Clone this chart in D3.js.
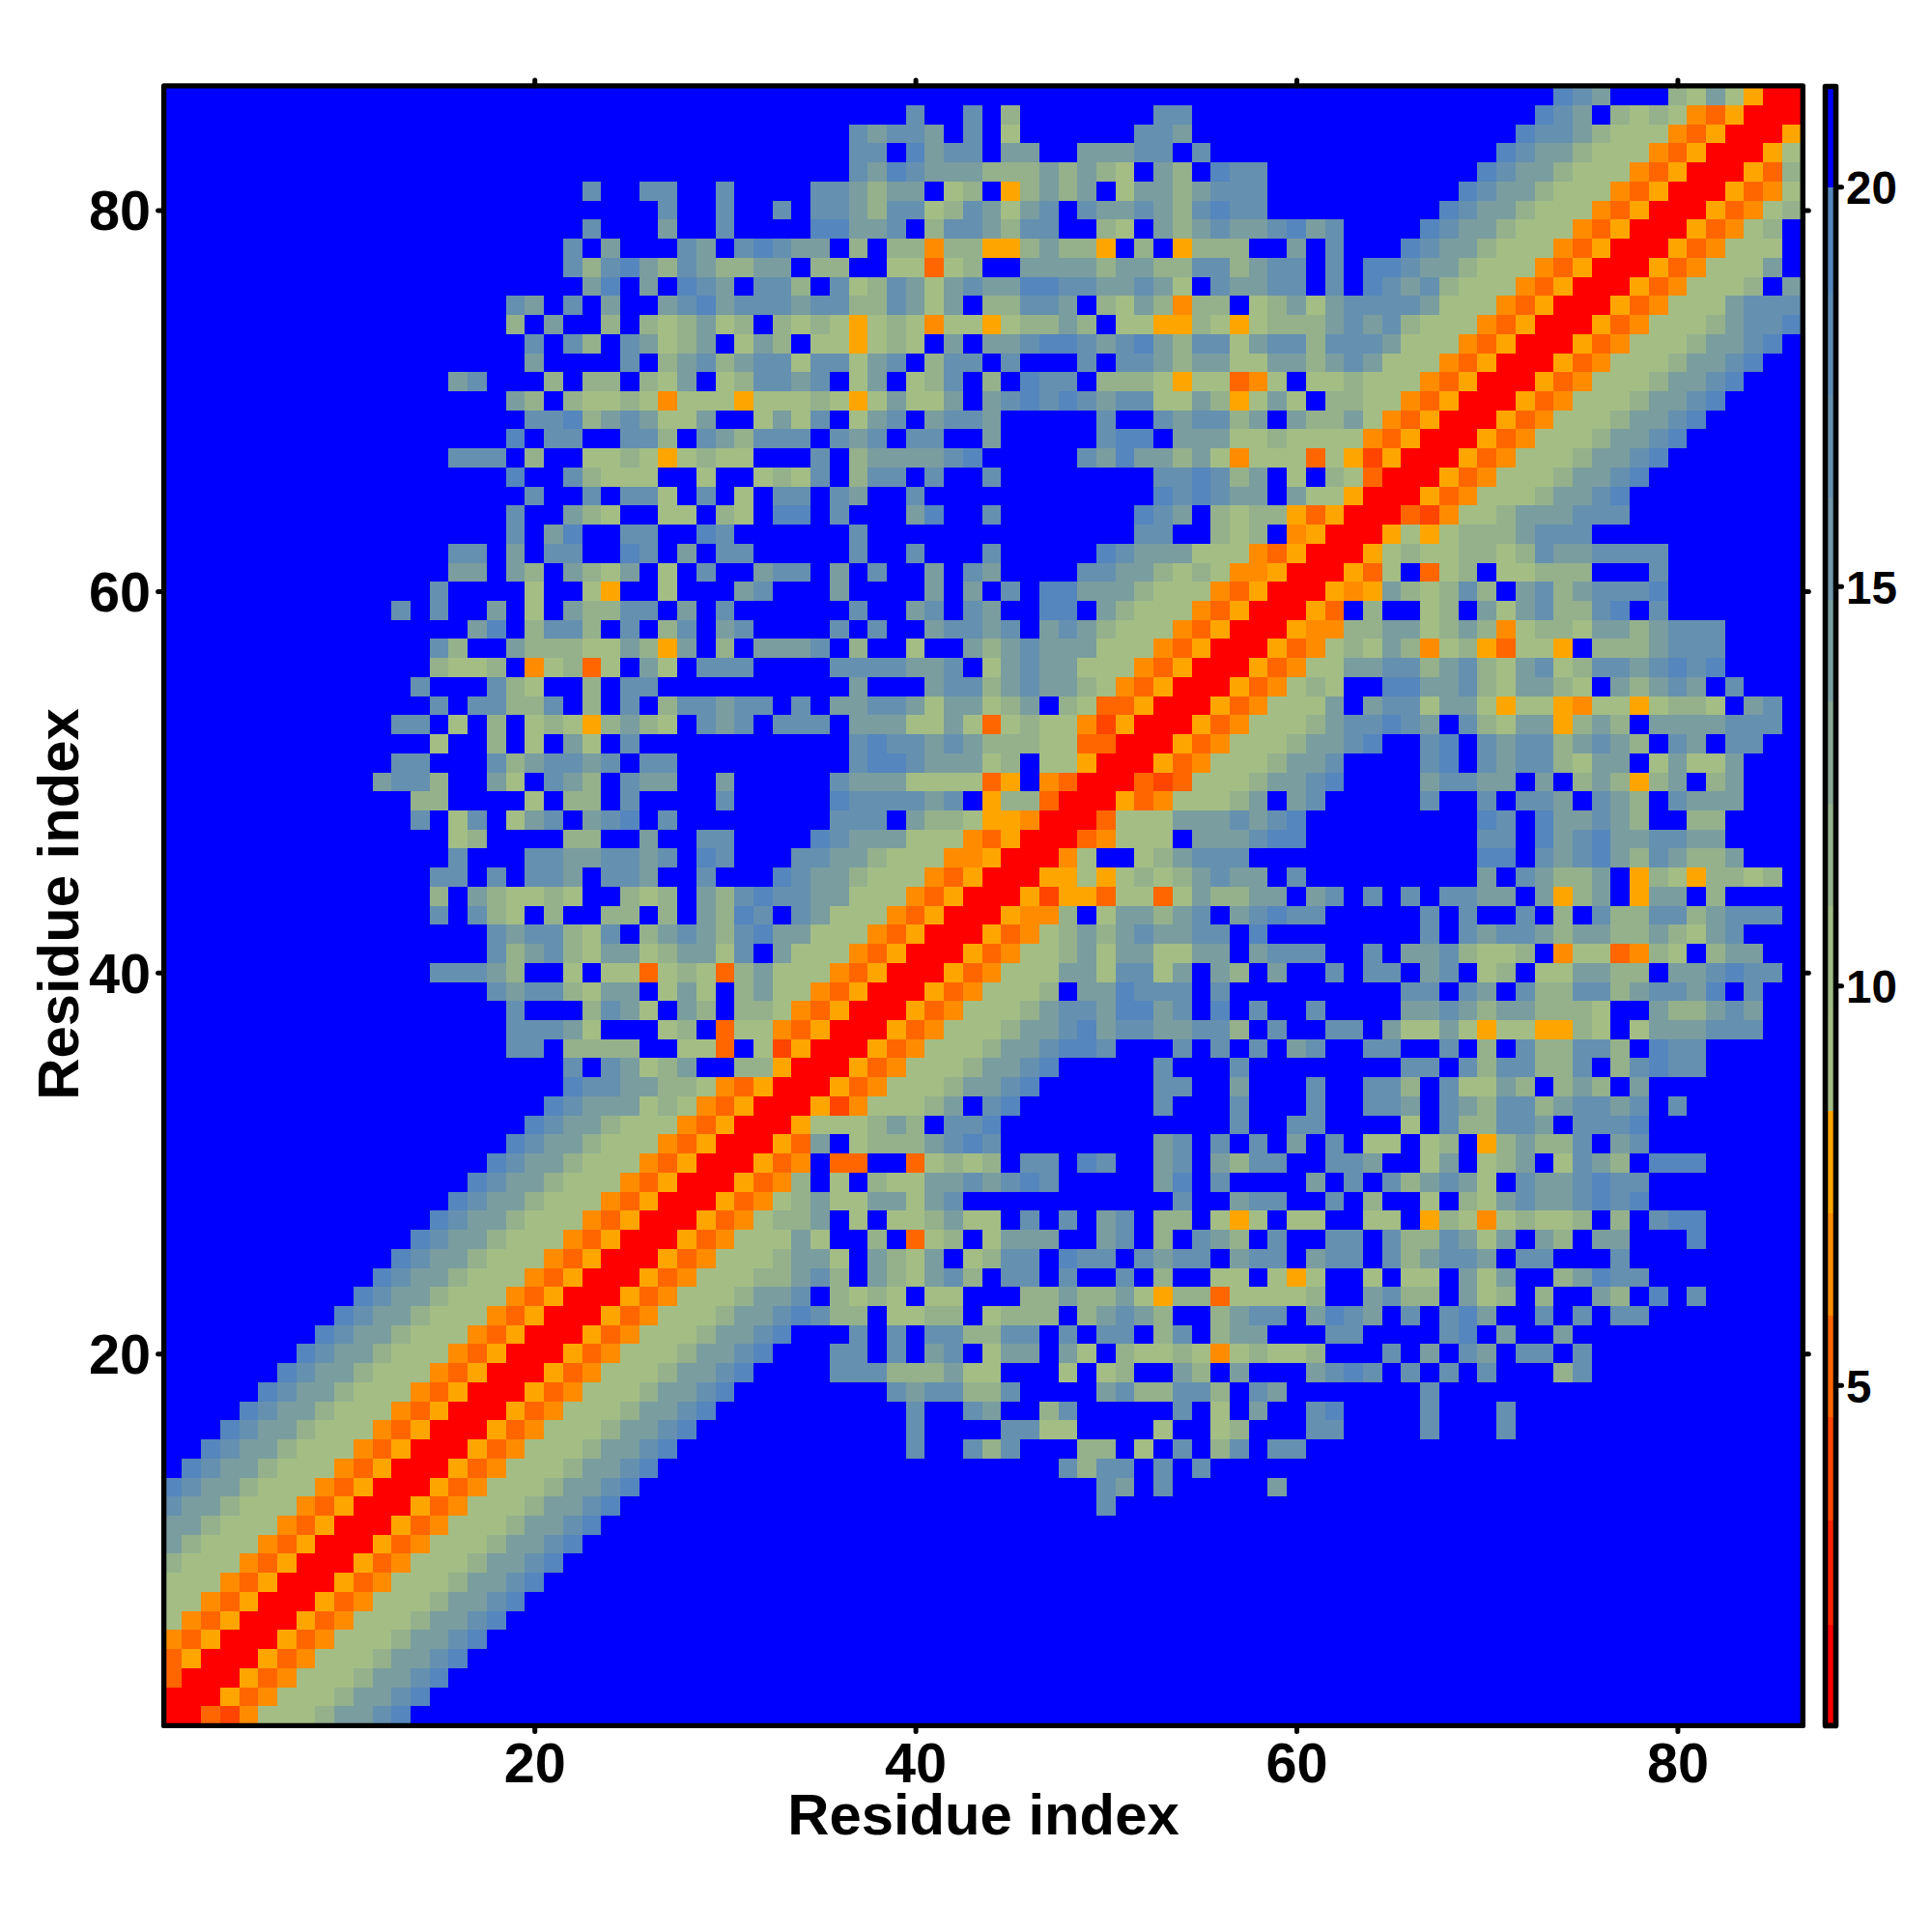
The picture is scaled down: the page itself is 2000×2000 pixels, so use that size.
<!DOCTYPE html>
<html><head><meta charset="utf-8">
<script src="https://cdn.jsdelivr.net/npm/d3@7"></script>
<style>html,body{margin:0;padding:0;background:#fff}svg{display:block}text{font-family:"Liberation Sans",Arial,sans-serif;font-weight:700;fill:#000}</style>
</head><body><svg id="c" width="2000" height="2000"></svg>
<script>
const residueCount = 86;
const axisTicks = [20, 40, 60, 80];
const colorbarTicks = [5, 10, 15, 20];
const axisLabel = "Residue index";
// distance code for each letter
const codeValues = {r:1.4, t:4.0, o:5.2, n:6.5, y:7.8, a:9.1, b:11.6, c:14.2, d:16.8, e:19.3};
const noContactValue = 21;
const colorBreaks = [2.0, 3.31, 4.6, 5.87, 7.15, 8.44, 9.72, 11.0, 12.28, 13.56, 14.84, 16.12, 17.4, 18.68, 20.0];
const colorLevels = ["#ff0000","#ff2200","#ff4500","#ff6600","#ff8c00","#ffa500","#a3bd85","#a0bb87","#94b18c","#88a794","#7a9d9f","#7096a8","#6590b0","#5c8bb7","#5586bd","#0000ff"];
// rows from residue 86 (top) to residue 1 (bottom); "col:codes" runs, everything else is no contact
const rowRuns = [
"74:edc 80:bacayrr",
"40:d 43:d 45:b 53:dd 73:edc 77:babanoyrrr",
"37:dcddc 43:d 45:a 52:ddc 72:eddcbaaanoyrrry",
"37:dd 40:ecdd 45:cc 49:cccdd 55:d 71:edccbaaanoyrrrya",
"37:dcedcccbbbcbcba 53:cb 56:edd 70:edccbaaanoyrrryob",
"23:d 26:dd 30:d 35:ddcbcc 42:ab 45:ybcbc 51:accbcddd 69:edccbaaanoyrrryona",
"27:d 30:d 33:d 35:ddcbddabdcacd 49:dccdcbdedd 68:edccbaaanoyrrryonab",
"23:d 27:c 30:d 35:eeccd 41:bddcbdd 50:ba 53:cbcdccdecd 67:edccbaaanoyrrryonab",
"22:d 24:c 28:dc 31:dedcc 37:b 39:bbnbbyybcbby 52:b 54:ybbb 60:c 62:d 66:edccbaaanoyrrryonaaa",
"22:dbdecbdcbbcc 35:bb 39:aaoab 46:ccccbccbbddbcdd 62:d 64:eedccbaaanoyrrryonaaac",
"23:ce 26:c 28:edc 32:ddb 36:dabdcacdcceeddccdca 56:dccdd 62:d 64:edcdbaaanoyrrryonaaab 86:c",
"19:dc 22:d 24:c 27:cdecdddcddbbdcac 44:bbddc 50:bacbnbb 58:abcacddddcaaanoyrrryonaaacddd",
"19:b 21:c 24:b 26:babcab 33:babayabanaayabbcb 51:aayybayabbbcdcdbaaanoyrrryonaaabcdde",
"20:d 22:db 25:dcabc 31:acb 35:aayaba 42:c 44:ccdeedcdecbddacddbdddcaaanoyrrryonaaabccde",
"20:c 25:d 27:bcdbcddaddacd 41:bdd 45:d 49:d 51:ddcbccaaccbcdcaaanoyrrryonaaabccde",
"16:cd 21:b 23:bb 26:bac 30:abddcd 37:ac 40:abd 44:b 46:edd 50:bbbayaaona 61:aabaaanoyrrryonaaabccde",
"19:cb 22:baabanaaayaaabayacaac 44:cdededcddaacbyaca 62:bbaanoyrrryonaaabccde",
"20:ddebcdcaac 32:acad 37:acd 41:cddc 50:d 53:dcddbc 60:cbbcanoyrrryonaaabccde",
"19:e 21:dd 25:ddb 29:dcbddd 36:dcd 40:dd 44:c 50:dee 54:cccaabaaaanoyrrryonaaabccde",
"16:ddd 20:b 23:aabayabaa 35:d 37:bccccde 49:dceccbcanaaaoaytyrrryonaaabccde",
"19:e 22:dbaaa 29:a 32:abad 37:bdd 41:d 44:d 53:ddedbc 60:a 62:baorrryonaaabccde",
"20:d 23:d 25:dda 29:d 31:a 33:dd 36:dc 40:d 53:ededcc 60:caayrrryonaaabccde",
"19:d 22:cba 27:aa 30:ba 33:ee 36:d 40:ce 44:d 52:edc 56:babbyoyrrrotnaabcccddd",
"19:d 21:ce 25:dd 29:ed 37:d 52:dd 56:bab 60:nyrrryayabbbcddd",
"16:dd 19:c 21:dd 25:ed 28:c 30:dd 37:d 40:d 44:d 50:edcccaaanoyrrryabaabbabdccdddd",
"16:cc 19:cb 22:cbac 27:a 29:d 32:cdd 36:c 38:d 41:c 43:dc 49:ddccbabannyrrryoa 67:oab 71:aabbb 79:d",
"15:d 20:a 23:ay 27:a 31:cd 36:c 41:c 43:c 45:d 47:eecccbaaanoyrrrynycbabdb 72:cdbcddde",
"13:d 15:d 18:c 20:a 22:cbbdd 28:c 30:d 37:d 40:cd 43:dc 47:ee 50:cbaaanoyrrryo 64:b 67:ab 70:cacdbbde 79:d",
"17:ce 20:bddb 25:d 27:bd 30:cd 36:d 38:d 41:cddcd 47:cdcbaaanoyrrrynnbbccabcbnabbaccbcddd",
"15:db 19:cbbbaacbyc 30:b 32:cccd 37:b 40:a 43:cbcdcccaaanoyrrryonabacbnabyoaay 76:bbbcddd",
"15:baab 20:naboa 26:ca 29:ddd 36:ddddccd 44:acdccaaanoyrrryonaaccddbcdbacdabddcdede",
"14:d 18:dba 23:b 25:dd 37:c 41:cddbcdccbanoyrrryonaba 65:eeccdbaccba 77:cbcdc 83:d",
"15:d 17:ddbbd 23:b 25:d 27:bddcdd 34:d 36:ccddcaccabc 48:baooyrrryonaaac 64:cddaccayaaynaayabba 84:cd",
"13:dd 16:a 18:b 20:abaybcba 29:dcd 33:ddd 37:cccaacaoabaantyrrryonaaabcddedc 69:dbaccybcb 79:ccccddd",
"15:a 18:b 20:a 22:ca 25:d 37:deddcdcbbbaaoorrryonaaabccde 67:de 70:dcddbcdcb 80:dc 83:dd",
"13:dd 18:dbcddcd 26:dd 37:deedcccab 47:aayrrryonaaabccd 67:de 70:dcddbacc 79:acaac",
"12:cddb 18:ca 21:dcb 25:dcc 30:c 36:dcccaaaaoy 47:norrrotoaaabccde 67:cddcc 73:c 75:bcbybc 82:bc",
"14:bb 20:a 22:bb 25:d 30:d 36:eddddcd 44:ybborrryonaaabc 60:cd 67:d 70:d 72:ddc 76:dcb 80:dccc",
"14:d 16:ad 19:acd 23:cde 27:d 36:ddd 40:cbbayynrrroaaacccdcde 70:ed 73:eccdcb 81:bb",
"16:ab 22:bb 26:c 29:dd 35:edcccaaanoyrrronaaa 55:cccdee 70:dd 73:ecdeccddcc",
"16:d 20:ddccddcd 29:ed 34:ddccbaaannyrrrna 52:abcddd 70:ee 73:dcdecbdcbbc",
"15:dd 18:d 20:ddc 24:ddc 29:d 33:edccbaaanoyrrryyayababcdcc 60:d 70:c 72:dcbbc 78:ybaybbab",
"15:b 17:cbaaba 25:bab 29:cbdeddccaaanoyrrrytyyoaaoacbbcc 61:cd 64:d 66:d 68:ddcc 73:cybc 78:ycc 82:b",
"15:d 17:dba 21:b 24:bb 27:b 29:cbed 34:dcaaanoyrrrynnb 50:accbcd 57:cdedd 67:d 69:d 72:d 74:b 76:dbbddbcddd",
"18:dcddbad 26:bcdcbdeccaaanoyrrryonabcbcdccdd 58:e 67:d 69:dcddcbccbbcbacd",
"18:dbcdbaccabccad 33:caaanoyrrryonaabcaccaacc 58:cddd 64:d 66:ccdbaab 74:naaonba 82:bcc",
"15:dddcb 22:a 24:aaoabaobcaaanoyrrryonaaaccaddac 56:cb 59:c 62:d 64:dd 67:cd 70:ab 73:aaccbb 80:ccdedd",
"18:dcddbacc 27:aca 31:bcaanoyrrryonaaab 49:cceddd 56:d 66:dd 69:dc 72:dbbddbcddce 84:d",
"19:d 23:bdca 28:cb 31:bbanoyrrryonaaabcddceecd 56:e 58:d 61:d 66:ccdcbccbbba 79:cbbcdc",
"19:dddca 27:ab 30:oaanoyrrryonaaabccdecddccddb 59:d 62:dd 65:caacayaayyba 78:acccddd",
"19:dd 22:bbbb 28:aao 32:atyrrryonaaabccdeed 54:d 56:d 58:d 60:cd 64:dd 68:d 70:b 72:dbbddb 79:edd",
"22:d 24:dcabc 31:bbyrrryonaaabccde 53:d 57:d 66:dd 69:dbddbbd 77:bdedd",
"22:eddccbbanoyrrryonaaabccde 53:dd 57:c 61:d 64:ddb 68:daacb 74:bcb 78:c",
"21:edcccabanoyrrrytnaaabc 44:de 53:d 57:d 61:d 64:ddc 68:dcbddbcddcd 80:d",
"20:edccbaaanoyrrryaaabcb 42:dde 57:d 60:dd 66:a 68:dbbddc 75:ddde",
"19:edccbaaanoyrrryoc 37:abbbcded 53:cd 56:d 58:d 60:c 62:d 64:aa 67:ab 70:ybcbbd 77:cd",
"18:edccbaaanoyrrryon 36:oo 40:oabab 46:dd 49:ed 53:cd 56:cbdd 62:ddc 67:ac 70:abc 74:adcb 79:eee",
"17:edccbaaanoyrrryonb 36:a 38:baaccdcded 53:ce 56:d 61:c 63:d 65:dbcdca 72:dccdedd",
"16:edccbaaanoyrrryonabcaaccacd 54:d 57:cdd 62:d 64:b 67:a 69:bacdccdede",
"15:edccbaaanoyrrryonabbc 37:a 39:aabcaa 46:d 48:d 50:cd 53:bb 56:aya 60:aa 64:aa 67:ybanabaab 77:b 79:dee",
"14:edccbaaanoyrrryonaaaca 38:b 40:oab 44:accc 50:cd 53:b 55:dcb 59:d 62:dd 65:dbbdcac 73:cb 76:cc 81:e",
"13:edccbaaanoyrrryonaaabcca 38:cbac 43:abdd 48:edd 52:dcdd 57:cdd 61:cdd 65:dbcddc 72:dd 77:d",
"12:edccbaaanoyrrryonaaabbcdb 38:cbacdb 45:dd 48:d 51:d 53:b 56:aa 59:aya 64:a 66:aa 69:cac 74:bcedd",
"11:edccbaaanoyrrryonaaabccd 36:baba 41:aa 46:bbcbbcaybboaaaab 64:cdbb 69:cab 73:b 76:cb 79:e 81:d",
"10:edccbaaanoyrrryonaaabccdedbb 39:aabb 44:abbb 49:bcdcb 56:bcdd 61:cedc 66:d 68:dec 73:d 75:d 77:dd",
"9:edccbaaanoyrrryonaaabccde 37:d 39:d 41:ddbbdd 48:d 50:dd 53:bd 56:bcc 62:dd 68:de 71:c 74:c",
"8:edccbaaanoyrrryonaaabccde 36:dd 39:d 41:cd 44:acc 48:ca 51:baabanabaab 65:d 67:c 69:dc 72:dd 75:d",
"7:edccbaaanoyrrryonaaabccde 36:dddbbbcaa 48:a 50:ab 54:cb 57:c 61:cded 66:d 68:d 70:d 74:bd",
"6:edccbaaanoyrrryonaaabccde 39:dcddbbd 50:cdbbddb 58:dc 67:d",
"5:edccbaaanoyrrryonaaabccde 40:d 43:dc 47:bd 54:d 56:a 58:c 61:de 67:d 71:d",
"4:edccbaaanoyrrryonaaabccde 40:d 45:ddaa 53:a 56:ab 61:dd 67:d 71:d",
"3:edccbaaanoyrrryonaaabccde 40:d 43:dbd 49:bb 52:a 54:d 56:bd 59:dd",
"2:edccbaaanoyrrryonaaabccde 48:dbdd 53:d 55:d",
"1:edccbaaanoyrrryonaaabccde 50:dc 53:d 59:c",
"1:dccbaaanoyrrryonaaabccde 50:d",
"1:ccbaaanoyrrryonaaabccde",
"1:cbaaanoyrrryonaaabccde",
"1:baaanoyrrryonaaabccde",
"1:aaanoyrrryonaaabccde",
"1:aanoyrrryonaaabccde",
"1:anoyrrryonaaabccde",
"1:noyrrryonaaabccde",
"1:oyrrryonaaabccde",
"1:orrryonaaabccde",
"1:rrryonaaabccde",
"1:rrotnaaabccde"
];

const svg = d3.select("#c");
const x = d3.scaleLinear().domain([0.5, residueCount + 0.5]).range([168.66, 1864.6]);
const y = d3.scaleLinear().domain([0.5, residueCount + 0.5]).range([1786, 89.3]);
const color = d3.scaleThreshold().domain(colorBreaks).range(colorLevels);
const frame = {l:169.6, r:1866.3, t:88.9, b:1786.4};

const cells = [];
rowRuns.forEach((runs, i) => {
  const row = residueCount - i;
  const rowValues = new Map();
  runs.split(" ").forEach(run => {
    const [start, codes] = run.split(":");
    [...codes].forEach((c, k) => rowValues.set(+start + k, codeValues[c]));
  });
  d3.range(1, residueCount + 1).forEach(col => {
    cells.push({row, col, value: rowValues.has(col) ? rowValues.get(col) : noContactValue});
  });
});

svg.append("clipPath").attr("id","plotClip").append("rect")
  .attr("x",frame.l).attr("y",frame.t).attr("width",frame.r-frame.l).attr("height",frame.b-frame.t);
svg.append("g").attr("clip-path","url(#plotClip)").attr("shape-rendering","crispEdges")
  .selectAll("rect").data(cells).join("rect")
  .attr("x", d => x(d.col - 0.5))
  .attr("y", d => y(d.row + 0.5))
  .attr("width", d => x(d.col + 0.5) - x(d.col - 0.5) + 0.5)
  .attr("height", d => y(d.row - 0.5) - y(d.row + 0.5) + 0.5)
  .attr("fill", d => color(d.value));

function styleAxis(g, fontSize) {
  g.select(".domain").remove();
  g.selectAll(".tick line").attr("stroke","#000").attr("stroke-width",5).attr("stroke-linecap","round");
  g.selectAll("text").attr("font-size",fontSize).attr("font-weight",700).attr("font-family",'"Liberation Sans",Arial,sans-serif').attr("fill","#000");
}
const tickLen = 6;
svg.append("g").attr("transform",`translate(0,${frame.b})`)
  .call(d3.axisBottom(x).tickValues(axisTicks).tickSize(tickLen).tickPadding(11.6)).call(styleAxis,57.6);
svg.append("g").attr("transform",`translate(0,${frame.t})`)
  .call(d3.axisTop(x).tickValues(axisTicks).tickSize(tickLen).tickFormat("")).call(styleAxis,57.6);
svg.append("g").attr("transform",`translate(${frame.l},0)`)
  .call(d3.axisLeft(y).tickValues(axisTicks).tickSize(tickLen).tickPadding(7.6)).call(styleAxis,57.6)
  .selectAll("text").attr("dy","0.355em");
svg.append("g").attr("transform",`translate(${frame.r},0)`)
  .call(d3.axisRight(y).tickValues(axisTicks).tickSize(tickLen).tickFormat("")).call(styleAxis,57.6);

svg.append("rect").attr("x",frame.l).attr("y",frame.t).attr("width",frame.r-frame.l).attr("height",frame.b-frame.t)
  .attr("fill","none").attr("stroke","#000").attr("stroke-width",5.4).attr("stroke-linejoin","round");

svg.append("text").attr("x",(frame.l+frame.r)/2).attr("y",1899).attr("text-anchor","middle").attr("font-size",59.8).text(axisLabel);
svg.append("text").attr("transform","translate(80.5,936) rotate(-90)").attr("text-anchor","middle").attr("font-size",59.8).text(axisLabel);

// colour bar
const cb = {l:1889.5, r:1900.5, t:89.5, b:1786.4};
const cbY = d3.scaleLinear().domain([5, 20]).range([1433.8, 193.3]);
const cbEdges = [cbY.invert(cb.b), ...colorBreaks, cbY.invert(cb.t)];
svg.append("g").attr("shape-rendering","crispEdges").selectAll("rect").data(colorLevels).join("rect")
  .attr("x",cb.l).attr("width",cb.r-cb.l)
  .attr("y",(d,i)=>cbY(cbEdges[i+1]))
  .attr("height",(d,i)=>cbY(cbEdges[i])-cbY(cbEdges[i+1])+0.5)
  .attr("fill",d=>d);
svg.append("rect").attr("x",cb.l).attr("y",cb.t).attr("width",cb.r-cb.l).attr("height",cb.b-cb.t)
  .attr("fill","none").attr("stroke","#000").attr("stroke-width",5.6).attr("stroke-linejoin","round");
svg.append("g").attr("transform",`translate(${cb.r},0)`)
  .call(d3.axisRight(cbY).tickValues(colorbarTicks).tickSize(6).tickPadding(4.5)).call(styleAxis,47.5)
  .selectAll("text").attr("dy","0.37em");
</script></body></html>
